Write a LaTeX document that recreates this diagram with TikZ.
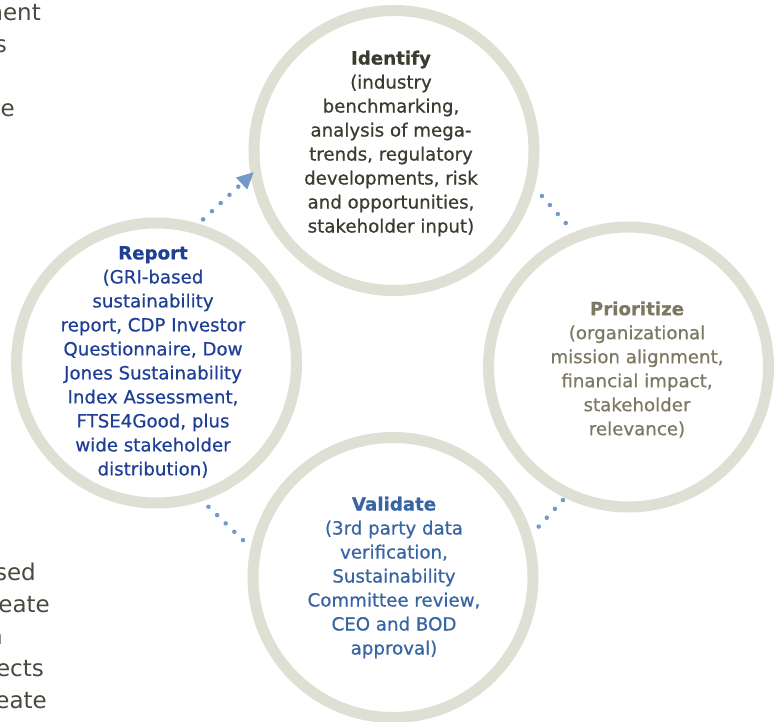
\documentclass[tikz,border=0pt]{standalone}
\usepackage{fontspec}
\setmainfont{DejaVu Sans}
\newfontfamily\bodyfont{DejaVu Sans}[FakeBold=0.6]
\usetikzlibrary{arrows.meta,calc}
\definecolor{ringcol}{HTML}{DFDFD3}
\definecolor{identcol}{HTML}{3D3B2F}
\definecolor{priocol}{HTML}{7C7862}
\definecolor{reportcol}{HTML}{1F3F97}
\definecolor{validcol}{HTML}{3765A4}
\definecolor{dotcol}{HTML}{7398C9}
\definecolor{sidecol}{HTML}{4A493F}
\begin{document}
\begin{tikzpicture}[x=1pt,y=1pt,
  ringc/.style={circle, draw=ringcol, line width=11pt, minimum size=280pt, inner sep=0pt},
  lbl/.style={align=center, font=\bodyfont\fontsize{18.2}{24}\selectfont, inner sep=0pt},
  dotline/.style={draw=dotcol, line width=4.5pt, line cap=round, dash pattern=on 0pt off 12pt},
  sidetxt/.style={anchor=base east, font=\fontsize{23}{32}\selectfont, text=sidecol, inner sep=0pt}]
\useasboundingbox (0,0) rectangle (776,721);
\clip (0,0) rectangle (776,721);
\fill[white] (0,0) rectangle (776,721);

% cut-off side texts
\node[sidetxt] (s1) at (41,700.5) {ment};
\node[sidetxt] (s2) at (7,668.5) {s};
\node[sidetxt] (s3) at (15,604.5) {ze};
\node[sidetxt] (s4) at (36,141) {sed};
\node[sidetxt] (s5) at (50,109) {reate};
\node[sidetxt] (s6) at (3,77) {n};
\node[sidetxt] (s7) at (44,45) {ects};
\node[sidetxt] (s8) at (47,13) {eate};

% circles
\node[ringc] (identify) at (394,570.5) {};
\node[ringc] (report) at (156.5,358) {};
\node[ringc] (prioritize) at (628.5,354) {};
\node[ringc] (validate) at (393,143.5) {};

% texts
\node[lbl, text=identcol] (identifytext) at (391,577.5)
  {\textbf{Identify}\\(industry\\benchmarking,\\analysis of mega-\\trends, regulatory\\developments, risk\\and opportunities,\\stakeholder input)};
\node[lbl, text=priocol] (prioritizetext) at (637,351.5)
  {\textbf{Prioritize}\\(organizational\\mission alignment,\\financial impact,\\stakeholder\\relevance)};
\node[lbl, text=reportcol] (reporttext) at (153,359)
  {\textbf{Report}\\(GRI-based\\sustainability\\report, CDP Investor\\Questionnaire, Dow\\Jones Sustainability\\Index Assessment,\\FTSE4Good, plus\\wide stakeholder\\distribution)};
\node[lbl, text=validcol] (validatetext) at (394,143.5)
  {\textbf{Validate}\\(3rd party data\\verification,\\Sustainability\\Committee review,\\CEO and BOD\\approval)};

% connectors
\coordinate (ria) at ($(report.center)+(72:151)$);
\coordinate (rib) at ($(identify.center)+(188.7:141.6)$);
\coordinate (ipa) at ($(identify.center)+(-17.1:154.8)$);
\coordinate (ipb) at ($(prioritize.center)+(112.2:146.3)$);
\coordinate (pva) at ($(prioritize.center)+(243.8:148.3)$);
\coordinate (pvb) at ($(validate.center)+(19.2:154)$);
\coordinate (vra) at ($(validate.center)+(166:154.6)$);
\coordinate (vrb) at ($(report.center)+(-70.2:152.5)$);

\draw[dotline, -{Triangle[length=17pt,width=15pt]}] (ria) -- (rib);
\draw[dotline] (ipa) -- (ipb);
\draw[dotline] (pva) -- (pvb);
\draw[dotline] (vra) -- (vrb);
\end{tikzpicture}
\end{document}
